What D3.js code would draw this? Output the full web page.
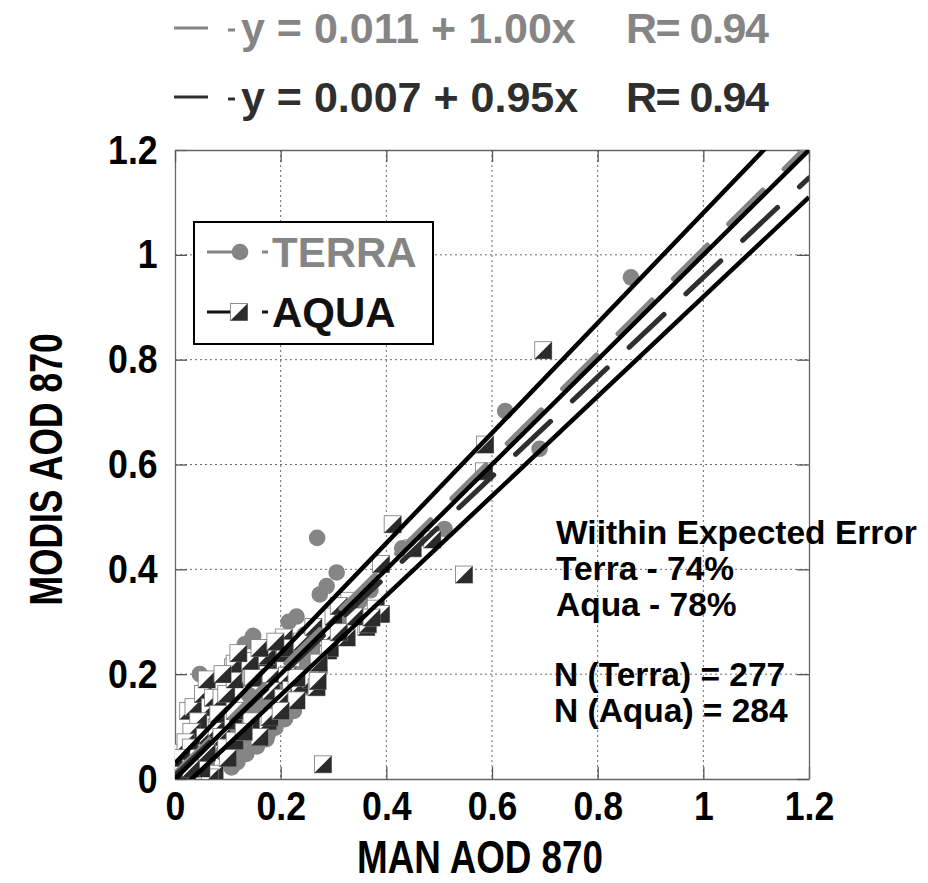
<!DOCTYPE html>
<html>
<head>
<meta charset="utf-8">
<script src="https://cdn.jsdelivr.net/npm/d3@7"></script>
<style>
  html, body { margin: 0; padding: 0; background: #fff; }
  svg { display: block; }
  .bold { font-family: 'Liberation Sans', Arial, Helvetica, sans-serif; font-weight: bold; }
</style>
</head>
<body>
<div id="chart"></div>
<script>
  // TERRA (серые кружки): [MAN AOD, MODIS AOD]
  let terra = [
    [0.047,0.200],[0.132,0.257],[0.142,0.262],[0.148,0.273],[0.215,0.300],[0.230,0.310],
    [0.245,0.275],[0.265,0.238],[0.274,0.352],[0.287,0.368],[0.306,0.394],[0.269,0.460],
    [0.510,0.477],[0.625,0.702],[0.690,0.630],[0.863,0.957],
    [0.107,0.022],[0.135,0.048],[0.145,0.076],[0.173,0.076],[0.176,0.086],[0.208,0.114],
    [0.242,0.175],[0.258,0.225],[0.267,0.206],[0.267,0.257],[0.274,0.206],[0.248,0.175],
    [0.220,0.160],[0.190,0.130],[0.160,0.100],[0.120,0.060],[0.090,0.050],[0.060,0.030],
    [0.040,0.020],[0.030,0.040],[0.020,0.010],[0.050,0.060],[0.070,0.080],[0.080,0.110],
    [0.100,0.090],[0.110,0.130],[0.130,0.120],[0.140,0.160],[0.150,0.140],[0.170,0.150],
    [0.180,0.190],[0.200,0.170],[0.210,0.200],[0.230,0.200],[0.240,0.240],[0.250,0.220],
    [0.270,0.260],[0.280,0.270],[0.300,0.290],[0.320,0.310],[0.350,0.340],[0.370,0.360],
    [0.430,0.440],[0.470,0.460],[0.010,0.020],[0.015,0.035],[0.118,0.032],[0.155,0.062],
    [0.190,0.098],[0.225,0.130]
  ];

  // AQUA (квадраты с треугольником): [MAN AOD, MODIS AOD]
  let aqua = [
    [0.025,0.130],[0.035,0.137],[0.053,0.162],[0.066,0.137],[0.072,0.155],[0.088,0.155],
    [0.097,0.162],[0.110,0.213],[0.113,0.190],[0.113,0.220],[0.143,0.232],[0.143,0.200],
    [0.145,0.220],[0.145,0.195],[0.176,0.220],[0.175,0.232],[0.181,0.194],[0.206,0.270],
    [0.205,0.240],[0.208,0.250],[0.212,0.197],[0.220,0.170],[0.236,0.180],[0.258,0.190],
    [0.268,0.175],[0.290,0.245],[0.290,0.270],[0.293,0.250],[0.300,0.310],[0.325,0.270],
    [0.330,0.340],[0.362,0.290],[0.365,0.295],[0.380,0.325],[0.390,0.315],[0.390,0.410],
    [0.412,0.486],[0.487,0.457],[0.547,0.390],[0.585,0.587],[0.587,0.638],[0.697,0.818],
    [0.280,0.028],
    [0.044,0.110],[0.031,0.090],[0.057,0.080],[0.079,0.098],[0.082,0.124],[0.088,0.080],
    [0.097,0.060],[0.110,0.111],[0.113,0.130],[0.113,0.073],[0.148,0.105],[0.145,0.110],
    [0.176,0.110],[0.179,0.118],[0.182,0.168],[0.205,0.155],[0.230,0.150],[0.230,0.193],
    [0.270,0.187],[0.148,0.193],[0.142,0.225],[0.174,0.235],[0.075,0.010],[0.066,0.003],
    [0.022,0.010],[0.013,0.010],[0.010,0.030],[0.015,0.050],[0.020,0.070],[0.030,0.060],
    [0.040,0.040],[0.050,0.020],[0.008,0.015],[0.012,0.040],[0.450,0.440],
    [0.060,0.190],[0.090,0.200],[0.120,0.240],[0.160,0.250],[0.190,0.262],[0.240,0.262],
    [0.262,0.290],[0.310,0.330],[0.340,0.310],[0.372,0.308],[0.310,0.280],[0.272,0.222],
    [0.200,0.130],[0.160,0.080],[0.130,0.090],[0.100,0.040],[0.060,0.050],[0.030,0.020]
  ];

  // регрессии и границы ожидаемой ошибки (±(0.03 + 0.05τ))
  let fits = [
    { name: 'terra', a: 0.011, b: 1.00, r: 0.94, color: '#858585' },
    { name: 'aqua',  a: 0.007, b: 0.95, r: 0.94, color: '#2e2e2e' }
  ];
  let envelope = [ { a: 0.03, b: 1.05 }, { a: 0, b: 1 }, { a: -0.03, b: 0.95 } ];

  let tickVals = [0, 0.2, 0.4, 0.6, 0.8, 1, 1.2];
  let tickLabels = ['0', '0.2', '0.4', '0.6', '0.8', '1', '1.2'];

  let notes = ['Wiithin Expected Error', 'Terra - 74%', 'Aqua - 78%'];
  let counts = ['N (Terra) = 277', 'N (Aqua) = 284'];

  let width = 928, height = 883;
  let pL = 175, pR = 809, pT = 150, pB = 779;

  let x = d3.scaleLinear().domain([0, 1.2]).range([pL, pR]);
  let y = d3.scaleLinear().domain([0, 1.2]).range([pB, pT]);

  let svg = d3.select('#chart').append('svg')
    .attr('width', width).attr('height', height);

  svg.append('clipPath').attr('id', 'plot')
    .append('rect').attr('x', pL).attr('y', pT)
    .attr('width', pR - pL).attr('height', pB - pT);

  // сетка (пунктир)
  let grid = svg.append('g').attr('stroke', '#6a6a6a').attr('stroke-width', 1)
    .attr('stroke-dasharray', '2,3');
  grid.selectAll('.gx').data(tickVals.slice(1, -1)).enter().append('line')
    .attr('x1', d => x(d)).attr('x2', d => x(d)).attr('y1', pT).attr('y2', pB);
  grid.selectAll('.gy').data(tickVals.slice(1, -1)).enter().append('line')
    .attr('y1', d => y(d)).attr('y2', d => y(d)).attr('x1', pL).attr('x2', pR);

  // оси: засечки внутрь
  function styleAxis(g) {
    g.select('.domain').attr('stroke', '#666').attr('stroke-width', 1.3);
    g.selectAll('.tick line').attr('stroke', '#555').attr('stroke-width', 1.3);
  }
  let fmt = (d, i) => tickLabels[i];

  // узкий жирный шрифт имитируем сжатием по горизонтали
  svg.append('g').attr('transform', `translate(0,${pB})`)
    .call(d3.axisBottom(x).tickValues(tickVals).tickFormat(fmt).tickSize(-12).tickSizeOuter(0).tickPadding(12))
    .call(styleAxis)
    .call(g => g.selectAll('text').attr('class', 'bold').attr('font-size', 41).attr('fill', '#000')
      .attr('transform', 'scale(0.87,1)'));

  svg.append('g').attr('transform', `translate(${pL},0)`)
    .call(d3.axisLeft(y).tickValues(tickVals).tickFormat(fmt).tickSize(-12).tickSizeOuter(0).tickPadding(20))
    .call(styleAxis)
    .call(g => g.selectAll('text').attr('class', 'bold').attr('font-size', 41).attr('fill', '#000')
      .attr('transform', 'scale(0.87,1)'));

  svg.append('g').attr('transform', `translate(0,${pT})`)
    .call(d3.axisTop(x).tickValues(tickVals).tickFormat('').tickSize(-12).tickSizeOuter(0))
    .call(styleAxis);

  svg.append('g').attr('transform', `translate(${pR},0)`)
    .call(d3.axisRight(y).tickValues(tickVals).tickFormat('').tickSize(-12).tickSizeOuter(0))
    .call(styleAxis);

  // точки
  let layer = svg.append('g').attr('clip-path', 'url(#plot)');
  let r = 8.3, s = 17;

  layer.selectAll('.terra').data(terra).enter().append('circle')
    .attr('cx', d => x(d[0])).attr('cy', d => y(d[1])).attr('r', r)
    .attr('fill', '#858585');

  function drawSquare(g, cx, cy) {
    g.append('rect').attr('x', cx - s/2).attr('y', cy - s/2).attr('width', s).attr('height', s)
      .attr('fill', '#fff').attr('stroke', '#777').attr('stroke-width', 0.8);
    g.append('path')
      .attr('d', `M${cx + s/2},${cy - s/2}L${cx + s/2},${cy + s/2}L${cx - s/2},${cy + s/2}Z`)
      .attr('fill', '#2b2b2b');
  }
  layer.selectAll('.aqua').data(aqua).enter().append('g')
    .each(function (d) { drawSquare(d3.select(this), x(d[0]), y(d[1])); });

  // линии
  let line = d3.line().x(d => x(d[0])).y(d => y(d[1]));
  let xs = [0, 1.2];

  layer.selectAll('.fit').data(fits).enter().append('path')
    .attr('d', f => line(xs.map(v => [v, f.a + f.b * v])))
    .attr('fill', 'none').attr('stroke', f => f.color).attr('stroke-width', 5)
    .attr('stroke-linecap', 'round').attr('stroke-dasharray', '48,30');

  layer.selectAll('.env').data(envelope).enter().append('path')
    .attr('d', f => line(xs.map(v => [v, f.a + f.b * v])))
    .attr('fill', 'none').attr('stroke', '#000').attr('stroke-width', 4.5);

  // заголовок с уравнениями
  let head = svg.append('g');
  fits.forEach((f, i) => {
    let by = 43 + i * 69;
    head.append('line').attr('x1', 174).attr('x2', 208).attr('y1', by - 15).attr('y2', by - 15)
      .attr('stroke', f.color).attr('stroke-width', 3);
    head.append('line').attr('x1', 228).attr('x2', 235).attr('y1', by - 13).attr('y2', by - 13)
      .attr('stroke', f.color).attr('stroke-width', 3);
    head.append('text').attr('class', 'bold').attr('x', 241).attr('y', by)
      .attr('font-size', 43).attr('fill', f.color)
      .text(`y = ${d3.format('.3f')(f.a)} + ${d3.format('.2f')(f.b)}x`);
    head.append('text').attr('class', 'bold').attr('x', 626).attr('y', by)
      .attr('font-size', 43).attr('letter-spacing', -1.5).attr('fill', f.color)
      .text(`R= ${d3.format('.2f')(f.r)}`);
  });

  // легенда
  let legend = svg.append('g');
  legend.append('rect').attr('x', 194).attr('y', 222).attr('width', 239).attr('height', 122)
    .attr('fill', '#fff').attr('stroke', '#000').attr('stroke-width', 2);
  let lg = [
    { label: 'TERRA', color: '#858585', cy: 252 },
    { label: 'AQUA', color: '#111', cy: 312 }
  ];
  lg.forEach((d, i) => {
    legend.append('line').attr('x1', 207).attr('x2', 234).attr('y1', d.cy).attr('y2', d.cy)
      .attr('stroke', d.color).attr('stroke-width', 3);
    if (i == 0) legend.append('circle').attr('cx', 240).attr('cy', d.cy).attr('r', r).attr('fill', d.color);
    else drawSquare(legend, 239, d.cy);
    legend.append('line').attr('x1', 262).attr('x2', 268).attr('y1', d.cy).attr('y2', d.cy)
      .attr('stroke', d.color).attr('stroke-width', 3);
    legend.append('text').attr('class', 'bold').attr('x', 272).attr('y', d.cy + 15)
      .attr('font-size', 42).attr('fill', d.color).text(d.label);
  });

  // подписи справа
  let ann = svg.append('g').attr('class', 'bold').attr('font-size', 33.5).attr('fill', '#000');
  ann.selectAll('.n1').data(notes).enter().append('text')
    .attr('x', 556).attr('y', (d, i) => 544 + i * 36).text(d => d);
  ann.selectAll('.n2').data(counts).enter().append('text')
    .attr('x', 554).attr('y', (d, i) => 686 + i * 36).text(d => d);

  // названия осей
  svg.append('text').attr('class', 'bold').attr('font-size', 46)
    .attr('text-anchor', 'middle')
    .attr('transform', `translate(480,873) scale(0.8,1)`)
    .text('MAN AOD 870');
  svg.append('text').attr('class', 'bold').attr('font-size', 46)
    .attr('text-anchor', 'middle')
    .attr('transform', `translate(62,${(pT + pB) / 2 + 5}) rotate(-90) scale(0.77,1)`)
    .text('MODIS AOD 870');
</script>
</body>
</html>
